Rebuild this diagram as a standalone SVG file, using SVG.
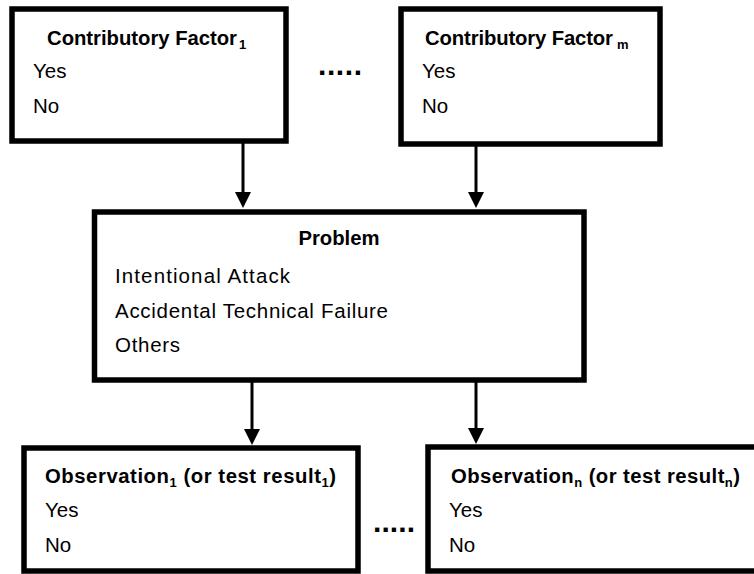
<svg xmlns="http://www.w3.org/2000/svg" width="754" height="574" viewBox="0 0 754 574">
<style>
.box{fill:#fff;stroke:#000;stroke-width:5.5}
.t{font-family:"Liberation Sans",Arial,sans-serif;font-size:20.5px;fill:#000}
.b{font-family:"Liberation Sans",Arial,sans-serif;font-size:20.3px;font-weight:bold;fill:#000}
.sub{font-size:13px}
.dots{font-family:"Liberation Sans",Arial,sans-serif;font-size:30px;font-weight:bold;fill:#000}
.con{stroke:#000;stroke-width:3;fill:none;marker-end:url(#ah)}
</style>
<defs>
<marker id="ah" markerUnits="userSpaceOnUse" markerWidth="16" markerHeight="16" viewBox="0 0 16 16" refX="8" refY="8" orient="auto">
<path d="M0,0 L16,8 L0,16 z" fill="#000"/>
</marker>
</defs>
<rect width="754" height="574" fill="#fff"/>
<g id="connectors">
<line class="con" x1="243" y1="143" x2="243" y2="200"/>
<line class="con" x1="476" y1="146" x2="476" y2="200"/>
<line class="con" x1="252" y1="382" x2="252" y2="437"/>
<line class="con" x1="476" y1="382" x2="476" y2="436"/>
</g>
<g id="cf1">
<rect class="box" x="12" y="9" width="274" height="132"/>
<text class="b" x="47" y="45" textLength="190">Contributory Factor</text>
<text class="b sub" x="239" y="49">1</text>
<text class="t" x="33" y="78">Yes</text>
<text class="t" x="33" y="113">No</text>
</g>
<g id="dots-top">
<text class="dots" x="318" y="75" textLength="44">.....</text>
</g>
<g id="cfm">
<rect class="box" x="401" y="9" width="259" height="135"/>
<text class="b" x="425" y="45" textLength="188">Contributory Factor</text>
<text class="b sub" x="617" y="49">m</text>
<text class="t" x="422" y="78">Yes</text>
<text class="t" x="422" y="113">No</text>
</g>
<g id="problem">
<rect class="box" x="94.5" y="212" width="489.5" height="168"/>
<text class="b" x="339" y="245" text-anchor="middle">Problem</text>
<text class="t" x="115" y="283" textLength="175">Intentional Attack</text>
<text class="t" x="115" y="318" textLength="273">Accidental Technical Failure</text>
<text class="t" x="115" y="352" textLength="65">Others</text>
</g>
<g id="obs1">
<rect class="box" x="24" y="448" width="334" height="123"/>
<text class="b" x="45" y="483" textLength="291">Observation<tspan class="sub" dy="4">1</tspan><tspan dy="-4"> (or test result</tspan><tspan class="sub" dy="4">1</tspan><tspan dy="-4">)</tspan></text>
<text class="t" x="45" y="517">Yes</text>
<text class="t" x="45" y="552">No</text>
</g>
<g id="dots-bottom">
<text class="dots" x="373" y="532" textLength="42">.....</text>
</g>
<g id="obsn">
<rect class="box" x="428" y="447" width="340" height="124"/>
<text class="b" x="451" y="483" textLength="289">Observation<tspan class="sub" dy="4">n</tspan><tspan dy="-4"> (or test result</tspan><tspan class="sub" dy="4">n</tspan><tspan dy="-4">)</tspan></text>
<text class="t" x="449" y="517">Yes</text>
<text class="t" x="449" y="552">No</text>
</g>
</svg>
